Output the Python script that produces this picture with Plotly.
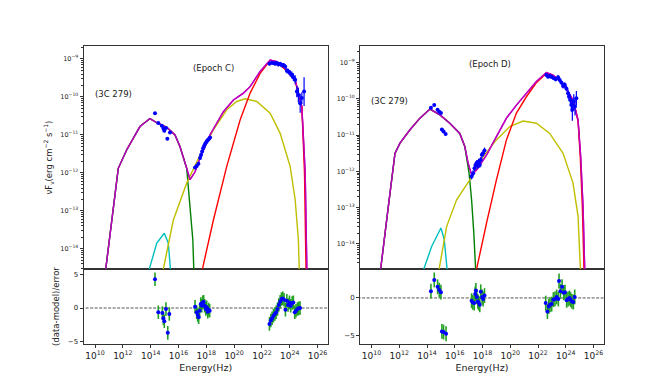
import numpy as np
import plotly.graph_objects as go

# ---- model curves, (log10 nu, log10 nuFnu) ----
# Epoch C
c_total = [(10.70, -15.0), (10.77, -14.53), (11.67, -11.88), (12.28, -11.39), (13.23, -10.78), (13.95, -10.57),
           (14.44, -10.68), (15.16, -10.80), (15.75, -11.00), (16.11, -11.31), (16.59, -11.88), (16.83, -12.18),
           (17.19, -11.97), (17.55, -11.61), (18.27, -11.00), (19.23, -10.39), (19.95, -10.08), (20.67, -9.90),
           (21.15, -9.73), (21.87, -9.33), (22.59, -9.03), (23.07, -9.07), (23.79, -9.29), (24.39, -9.55),
           (24.87, -10.26), (25.11, -12.00), (25.23, -14.53), (25.26, -15.0)]
c_sync = [(10.70, -15.0), (10.77, -14.53), (11.67, -11.88), (12.28, -11.39), (13.23, -10.78), (13.95, -10.57),
          (14.44, -10.68), (15.16, -10.80), (15.75, -11.00), (16.11, -11.31), (16.59, -11.88), (16.71, -12.36),
          (16.88, -13.06), (17.03, -13.76), (17.10, -14.53), (17.13, -15.0)]
c_disk = [(13.85, -15.0), (13.90, -14.53), (14.44, -13.85), (14.98, -13.59), (15.27, -13.85), (15.46, -14.53),
          (15.52, -15.0)]
c_ssc = [(14.82, -15.0), (14.91, -14.53), (15.63, -13.24), (16.59, -12.27), (17.55, -11.53), (18.51, -10.87),
         (19.47, -10.34), (20.19, -10.12), (20.79, -10.05), (21.63, -10.12), (22.59, -10.43), (23.31, -10.96),
         (24.03, -11.83), (24.39, -12.71), (24.62, -13.76), (24.70, -14.53), (24.72, -15.0)]
c_ec = [(17.62, -15.0), (17.72, -14.53), (18.51, -13.24), (19.47, -11.83), (20.43, -10.61), (21.15, -9.90),
        (21.87, -9.38), (22.59, -9.04), (23.07, -9.08), (23.79, -9.32), (24.39, -9.58), (24.87, -10.26),
        (25.06, -12.00), (25.16, -14.53), (25.19, -15.0)]

# Epoch D
d_total = [(10.60, -15.0), (10.66, -14.69), (11.21, -12.97), (11.69, -11.50), (12.05, -11.22), (12.77, -10.85),
           (13.49, -10.53), (14.21, -10.28), (14.93, -10.44), (15.64, -10.67), (16.36, -10.95), (16.72, -11.31),
           (16.96, -11.77), (17.21, -12.09), (17.57, -11.96), (18.29, -11.54), (19.00, -11.04), (19.72, -10.53),
           (20.44, -10.17), (21.16, -9.84), (21.88, -9.52), (22.60, -9.27), (23.08, -9.34), (23.80, -9.57),
           (24.52, -10.03), (24.88, -10.58), (25.07, -11.59), (25.24, -12.97), (25.36, -14.69), (25.38, -15.0)]
d_sync = [(10.60, -15.0), (10.66, -14.69), (11.21, -12.97), (11.69, -11.50), (12.05, -11.22), (12.77, -10.85),
          (13.49, -10.53), (14.21, -10.28), (14.93, -10.44), (15.64, -10.67), (16.36, -10.95), (16.72, -11.31),
          (17.03, -12.05), (17.21, -12.78), (17.37, -13.70), (17.52, -14.69), (17.54, -15.0)]
d_disk = [(13.72, -15.0), (13.77, -14.69), (14.33, -14.07), (15.00, -13.56), (15.24, -13.88), (15.48, -14.69),
          (15.52, -15.0)]
d_ssc = [(14.83, -15.0), (14.87, -14.69), (15.41, -13.52), (16.13, -12.78), (17.08, -12.23), (18.04, -11.59),
         (19.00, -11.13), (19.96, -10.76), (20.92, -10.61), (21.88, -10.67), (22.84, -10.95), (23.80, -11.50),
         (24.52, -12.32), (24.88, -13.24), (25.05, -14.69), (25.06, -15.0)]
d_ec = [(17.54, -15.0), (17.57, -14.69), (18.29, -13.42), (19.00, -12.23), (19.72, -11.13), (20.44, -10.39),
        (21.16, -9.94), (21.88, -9.55), (22.60, -9.29), (23.08, -9.36), (23.80, -9.58), (24.52, -10.04),
        (24.88, -10.61), (25.04, -11.59), (25.19, -12.97), (25.31, -14.69), (25.33, -15.0)]

# ---- data points: log10 nu, log10 nuFnu, error (dex) ----
c_x = [14.31, 14.55, 14.80, 14.92, 14.98, 15.10, 15.20, 15.39,
       17.19, 17.31, 17.43, 17.55, 17.62, 17.70, 17.77, 17.84, 17.91, 17.98, 18.05, 18.13, 18.20, 18.27,
       22.54, 22.71, 22.83, 22.95, 23.07, 23.18, 23.31, 23.43, 23.54, 23.67, 23.79, 23.90, 24.03, 24.15,
       24.26, 24.39, 24.51, 24.62, 24.75, 24.87, 25.03]
c_y = [-10.43, -10.69, -10.76, -10.83, -10.89, -10.82, -11.10, -10.94,
       -11.86, -11.82, -11.76, -11.61, -11.53, -11.44, -11.35, -11.29, -11.24, -11.20, -11.16, -11.13, -11.10, -11.07,
       -9.13, -9.10, -9.11, -9.13, -9.11, -9.15, -9.13, -9.17, -9.16, -9.20, -9.31, -9.33, -9.38, -9.42,
       -9.48, -9.55, -9.86, -9.95, -10.17, -10.03, -9.86]
c_err = [0.02] * 8 + [0.04] * 14 + [0.04, 0.04, 0.04, 0.04, 0.04, 0.04, 0.05, 0.05, 0.05, 0.06, 0.07, 0.07,
                                     0.08, 0.09, 0.10, 0.12, 0.15, 0.20, 0.25, 0.15, 0.38]

d_x = [14.28, 14.52, 14.76, 14.88, 15.00, 15.07, 15.19, 15.34,
       17.21, 17.32, 17.42, 17.49, 17.57, 17.64, 17.71, 17.80, 17.87, 17.95, 18.04, 18.14,
       22.60, 22.72, 22.84, 22.96, 23.13, 23.27, 23.44, 23.56, 23.68, 23.80, 23.92, 24.04, 24.16, 24.23,
       24.33, 24.40, 24.47, 24.57, 24.66, 24.76]
d_y = [-10.24, -10.17, -10.30, -10.35, -10.39, -10.84, -10.90, -10.97,
       -12.14, -12.05, -11.91, -11.82, -11.77, -11.85, -11.73, -11.82, -11.68, -11.54, -11.50, -11.42,
       -9.34, -9.39, -9.37, -9.39, -9.43, -9.46, -9.40, -9.48, -9.55, -9.64, -9.61, -9.71, -9.84, -9.94,
       -10.03, -10.17, -10.30, -10.07, -10.21, -9.98]
d_err = [0.02] * 8 + [0.08] * 12 + [0.04, 0.04, 0.04, 0.05, 0.05, 0.05, 0.05, 0.06, 0.06, 0.07, 0.07, 0.08,
                                     0.10, 0.12, 0.15, 0.18, 0.30, 0.20, 0.25, 0.20]

# ---- residuals (data-model)/error ----
c_rx = [14.31, 14.55, 14.84, 14.91, 14.98, 15.10, 15.23, 15.34,
        17.19, 17.31, 17.38, 17.45, 17.52, 17.60, 17.67, 17.74, 17.81, 17.88, 17.96, 18.03, 18.10, 18.17, 18.24,
        22.54, 22.64, 22.73, 22.83, 22.93, 23.02, 23.12, 23.21, 23.31, 23.40, 23.50, 23.59, 23.69, 23.79,
        23.88, 23.98, 24.07, 24.17, 24.26, 24.36, 24.45, 24.55, 24.65, 24.74]
c_ry = [4.25, -0.63, -0.73, -1.51, -1.95, -0.15, -3.66, -0.88,
        0.19, -0.63, -1.02, -1.37, -0.39, 0.59, 0.34, 0.83, 0.93, 0.34, -0.15, 0.10, -0.54, -0.24, -0.39,
        -2.34, -1.85, -1.51, -1.12, -0.88, -0.63, -0.15, 0.44, 0.93, 1.32, 1.42, 1.22, -0.24, 1.07,
        0.44, 0.83, 0.34, 0.73, 0.83, -0.63, -0.39, -0.15, -0.05, 0.0]

d_rx = [14.28, 14.52, 14.76, 14.88, 15.00, 15.07, 15.19, 15.37,
        17.21, 17.30, 17.40, 17.47, 17.52, 17.59, 17.66, 17.73, 17.80, 17.87, 17.97, 18.04, 18.14,
        22.55, 22.67, 22.77, 22.86, 22.98, 23.10, 23.22, 23.34, 23.46, 23.51, 23.61, 23.73, 23.85, 23.94,
        24.06, 24.16, 24.26, 24.35, 24.44, 24.54, 24.64]
d_ry = [0.92, 2.43, 1.51, 1.06, 0.78, -4.50, -4.59, -4.82,
        -0.37, -0.60, -0.69, 0.55, 1.01, 0.14, -0.46, -0.69, -0.92, 0.83, 0.14, -0.14, 0.32,
        -0.69, -1.83, -1.15, -0.92, -0.83, -0.23, -0.14, 0.14, -0.14, 2.29, 0.92, 1.51, 0.69, 0.78,
        -0.32, -0.14, 0.0, -0.23, -0.46, -0.55, 0.14]

x_ticks = [10, 12, 14, 16, 18, 20, 22, 24, 26]
y_ticks = [-9, -10, -11, -12, -13, -14]

COLORS = dict(total="#bf00bf", sync="#008000", disk="#00bfbf", ssc="#bfbf00", ec="#ff0000")
FONT = "DejaVu Sans"
AX = "#333333"

# the page has the browser's 8px body margin; size the figure to fit inside the window
PAD = 8
W, H = 672 - 2 * PAD, 387 - 2 * PAD


def fx(px):
    return (px - PAD) / W


def fy(py):
    return 1 - (py - PAD) / H


fig = go.Figure()


def curve(pts, color, xa, ya):
    lx, ly = zip(*pts)
    fig.add_trace(go.Scatter(x=10 ** np.array(lx), y=10 ** np.array(ly), mode="lines",
                             line=dict(color=color, width=1.4), xaxis=xa, yaxis=ya, hoverinfo="skip"))


def points(lx, ly, err, xa, ya):
    lx, ly, err = np.array(lx), np.array(ly), np.array(err)
    y = 10 ** ly
    fig.add_trace(go.Scatter(
        x=10 ** lx, y=y, mode="markers", marker=dict(color="#0000ff", size=4),
        error_y=dict(type="data", symmetric=False, array=y * (10 ** err - 1), arrayminus=y * (1 - 10 ** -err),
                     color="#0000ff", thickness=1.2, width=0),
        xaxis=xa, yaxis=ya))


def resid(lx, ry, xa, ya):
    fig.add_trace(go.Scatter(
        x=10 ** np.array(lx), y=ry, mode="markers", marker=dict(color="#0000ff", size=4),
        error_y=dict(type="constant", value=1, color="#22a022", thickness=1.6, width=0),
        xaxis=xa, yaxis=ya))


for pts, key in [(c_total, "total"), (c_sync, "sync"), (c_disk, "disk"), (c_ssc, "ssc"), (c_ec, "ec")]:
    curve(pts, COLORS[key], "x3", "y3")
curve(c_total, COLORS["total"], "x3", "y3")
points(c_x, c_y, c_err, "x3", "y3")
for pts, key in [(d_total, "total"), (d_sync, "sync"), (d_disk, "disk"), (d_ssc, "ssc"), (d_ec, "ec")]:
    curve(pts, COLORS[key], "x4", "y4")
curve(d_total, COLORS["total"], "x4", "y4")
points(d_x, d_y, d_err, "x4", "y4")

# zero lines first so the residual points sit on top
for xa, ya in [("x", "y"), ("x2", "y2")]:
    fig.add_trace(go.Scatter(x=[10.0 ** 9, 10.0 ** 27], y=[0, 0], mode="lines", xaxis=xa, yaxis=ya,
                             line=dict(color="#555", width=1, dash="3px,1.5px"), hoverinfo="skip"))
resid(c_rx, c_ry, "x", "y")
resid(d_rx, d_ry, "x2", "y2")

xr = [9.17, 26.75]
left_dom, right_dom = [fx(83.5), fx(328)], [fx(360), fx(604)]
top_dom, bot_dom = [fy(269), fy(46)], [fy(344), fy(269)]

tick_txt = [f"10<sup>{t}</sup>" for t in x_ticks]
ytick_txt = [f"10<sup>\u2212{-t}</sup>" for t in y_ticks]

common = dict(showline=True, linecolor=AX, linewidth=1, mirror=True, showgrid=False, zeroline=False,
              automargin=False, ticks="outside", tickcolor=AX, ticklen=3,
              tickfont=dict(family=FONT, size=9, color="#222"))


def bottom_x(dom, anchor):
    return dict(type="log", range=xr, domain=dom, anchor=anchor, tickvals=[10.0 ** t for t in x_ticks],
                ticktext=tick_txt, title=dict(text="Energy(Hz)", font=dict(family=FONT, size=9.5, color="#222"),
                                              standoff=4), **common)


def top_x(dom, anchor):
    return dict(type="log", range=xr, domain=dom, anchor=anchor, showticklabels=False,
                **{**common, "ticks": ""})


def top_y(anchor, rng, title):
    d = dict(type="log", range=rng, domain=top_dom, anchor=anchor, tickvals=[10.0 ** t for t in y_ticks],
             ticktext=ytick_txt, minor=dict(ticks="outside", ticklen=2, tickcolor=AX, dtick="D1"), **common)
    d["tickfont"] = dict(family=FONT, size=6.5, color="#222")
    if title:
        d["title"] = dict(text="\u03bdF<sub>\u03bd</sub>(erg cm<sup>\u22122</sup> s<sup>\u22121</sup>)",
                          font=dict(family=FONT, size=8.5, color="#222"), standoff=6)
    return d


def res_y(anchor, rng, vals, title):
    d = dict(range=rng, domain=bot_dom, anchor=anchor, tickvals=vals,
             ticktext=[str(v).replace("-", "\u2212") for v in vals], **common)
    d["tickfont"] = dict(family=FONT, size=7, color="#222")
    if title:
        d["title"] = dict(text="(data-model)/error", font=dict(family=FONT, size=8.5, color="#222"), standoff=6)
    return d


fig.update_layout(
    width=W, height=H, margin=dict(l=0, r=0, t=0, b=0),
    paper_bgcolor="white", plot_bgcolor="white", showlegend=False,
    font=dict(family=FONT, color="#222"),
    xaxis=bottom_x(left_dom, "y"),
    xaxis2=bottom_x(right_dom, "y2"),
    xaxis3=top_x(left_dom, "y3"),
    xaxis4=top_x(right_dom, "y4"),
    yaxis=res_y("x", [-5.3, 5.75], [5, 0, -5], True),
    yaxis2=res_y("x2", [-6.2, 3.9], [0, -5], False),
    yaxis3=top_y("x3", [-14.53, -8.66], True),
    yaxis4=top_y("x4", [-14.69, -8.54], False),
)

notes = [("(3C 279)", 113, 94), ("(Epoch C)", 213.5, 68), ("(3C 279)", 389, 101), ("(Epoch D)", 490, 64)]
for txt, px, py in notes:
    fig.add_annotation(text=txt, x=fx(px), y=fy(py), xref="paper", yref="paper", showarrow=False,
                       xanchor="center", yanchor="middle", font=dict(family=FONT, size=8.5, color="#222"))

fig.write_html("out.html")
